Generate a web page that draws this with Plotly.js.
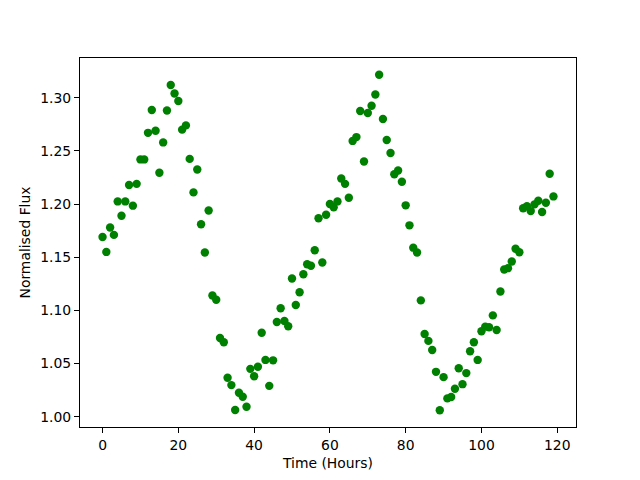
<!DOCTYPE html>
<html>
<head>
<meta charset="utf-8">
<script src="https://cdn.plot.ly/plotly-3.0.1.min.js"></script>
<style>html,body{margin:0;padding:0;background:#fff;}#chart{width:640px;height:480px;}</style>
</head>
<body>
<div id="chart"></div>
<script>
const hours = [];
for (let h = 0; h <= 119; h++) hours.push(h);

const flux = [
  1.169, 1.155, 1.178, 1.171, 1.2025, 1.189, 1.2025, 1.218, 1.1985, 1.219,
  1.242, 1.242, 1.267, 1.2885, 1.269, 1.2294, 1.258, 1.288, 1.312, 1.304,
  1.297, 1.270, 1.274, 1.2425, 1.211, 1.2325, 1.181, 1.1544, 1.194, 1.114,
  1.110, 1.074, 1.070, 1.0366, 1.0297, 1.0063, 1.0225, 1.0188, 1.0094, 1.045,
  1.038, 1.047, 1.079, 1.0534, 1.029, 1.053, 1.089, 1.102, 1.090, 1.085,
  1.130, 1.105, 1.117, 1.134, 1.1434, 1.142, 1.1566, 1.1866, 1.145, 1.190,
  1.200, 1.197, 1.2025, 1.224, 1.219, 1.206, 1.2594, 1.263, 1.2875, 1.240,
  1.2856, 1.2925, 1.303, 1.3216, 1.280, 1.2603, 1.248, 1.228, 1.2316, 1.221,
  1.1988, 1.180, 1.159, 1.1544, 1.1094, 1.0778, 1.0713, 1.0628, 1.0422, 1.0061,
  1.0372, 1.0172, 1.0185, 1.0263, 1.0456, 1.0306, 1.041, 1.0616, 1.070, 1.0534,
  1.0803, 1.0847, 1.0841, 1.0953, 1.0816, 1.1178, 1.1385, 1.1397, 1.146, 1.158,
  1.1547, 1.196, 1.198, 1.1934, 1.1997, 1.2031, 1.1925, 1.2013, 1.2285, 1.2072
];

const xTicks = [0, 20, 40, 60, 80, 100, 120];
const yTicks = [1.00, 1.05, 1.10, 1.15, 1.20, 1.25, 1.30];

const font = {family: 'DejaVu Sans, sans-serif', size: 13.9, color: '#000'};

const trace = {
  x: hours, y: flux, type: 'scatter', mode: 'markers',
  marker: {color: '#008000', size: 8.4, line: {width: 0}},
  hoverinfo: 'x+y'
};

const axisCommon = {
  showline: true, linecolor: '#000', linewidth: 1.1, mirror: true,
  ticks: 'outside', ticklen: 4.9, tickwidth: 1.1, tickcolor: '#000',
  showgrid: false, zeroline: false, tickfont: font
};

const layout = {
  width: 640, height: 480,
  margin: {l: 80, r: 64, t: 58, b: 53, pad: 0},
  paper_bgcolor: '#fff', plot_bgcolor: '#fff',
  font: font,
  showlegend: false,
  xaxis: Object.assign({}, axisCommon, {
    range: [-5.95, 124.95], tickvals: xTicks, ticktext: xTicks.map(String),
    title: {text: 'Time (Hours)', font: font, standoff: 6}
  }),
  yaxis: Object.assign({}, axisCommon, {
    range: [0.9903, 1.3374], tickvals: yTicks, ticktext: yTicks.map(v => v.toFixed(2)),
    title: {text: 'Normalised Flux', font: font, standoff: 6}
  })
};

Plotly.newPlot('chart', [trace], layout, {displayModeBar: false, staticPlot: true});
</script>
</body>
</html>
